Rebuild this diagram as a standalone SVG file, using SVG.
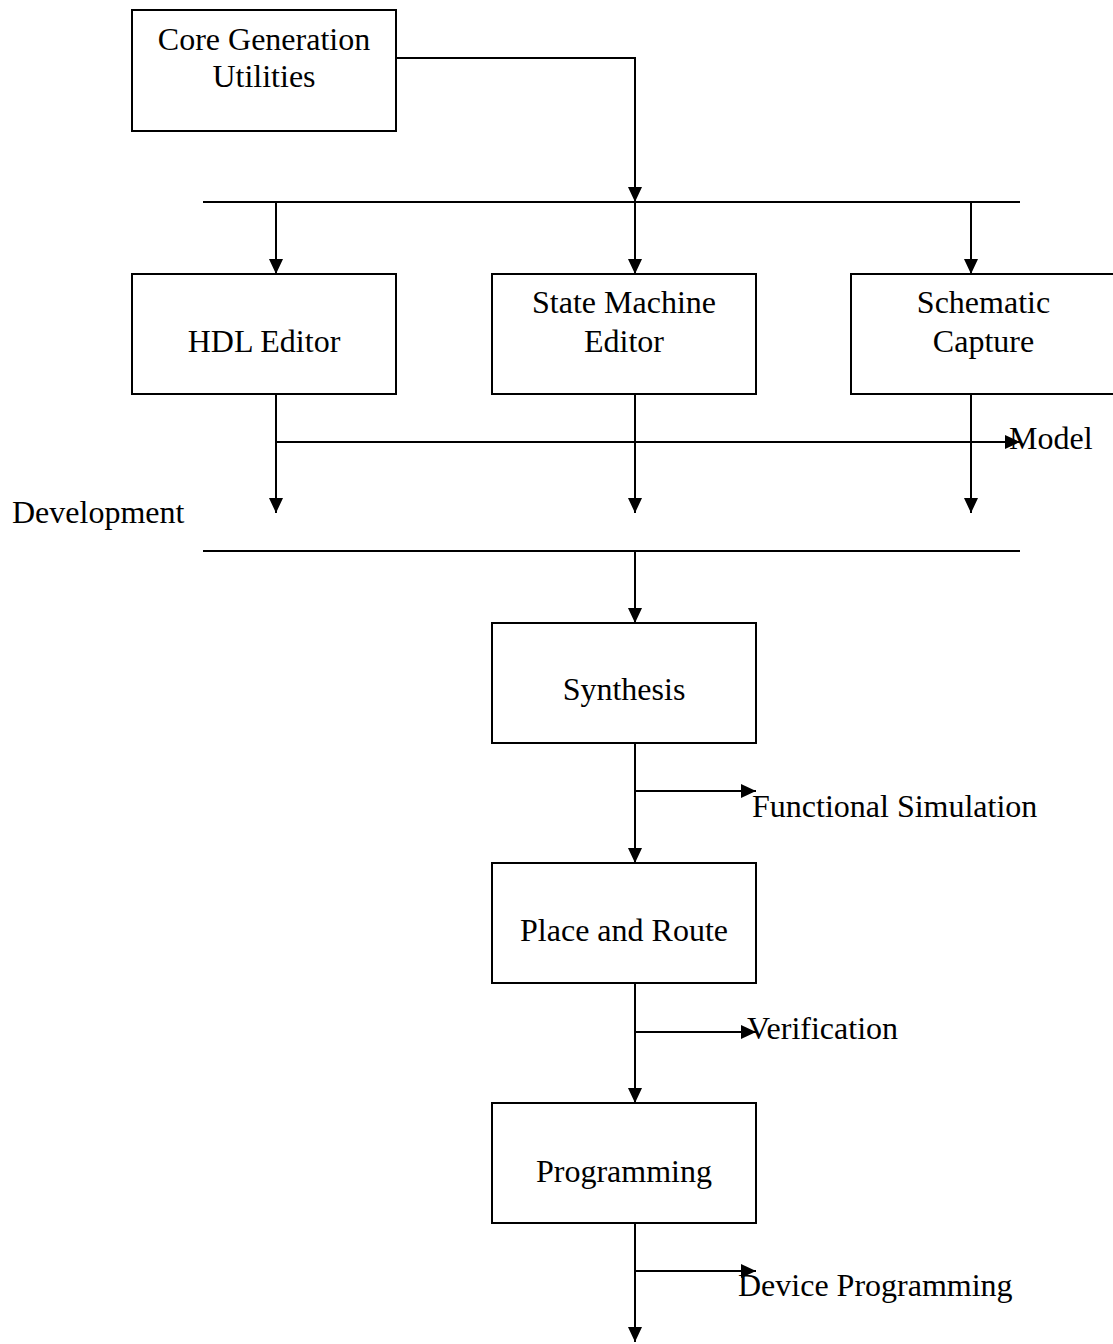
<svg xmlns="http://www.w3.org/2000/svg" width="1113" height="1344" viewBox="0 0 1113 1344">
<style>
.box{fill:#fff;stroke:#000;stroke-width:2}
.ln{fill:none;stroke:#000;stroke-width:2}
text{font-family:"Liberation Serif","Times New Roman",serif;font-size:32px;fill:#000}
.c{text-anchor:middle}
</style>
<defs>
<marker id="ah" viewBox="0 0 15 14" refX="15" refY="7" markerWidth="15" markerHeight="14" markerUnits="userSpaceOnUse" orient="auto">
<path d="M0,0 L15,7 L0,14 z" fill="#000"/>
</marker>
</defs>
<rect width="1113" height="1344" fill="#fff"/>
<g id="connectors">
<path class="ln" d="M396,58 H635 V202" marker-end="url(#ah)"/>
<line class="ln" x1="203" y1="202" x2="1020" y2="202"/>
<line class="ln" x1="276" y1="202" x2="276" y2="274" marker-end="url(#ah)"/>
<line class="ln" x1="635" y1="202" x2="635" y2="274" marker-end="url(#ah)"/>
<line class="ln" x1="971" y1="202" x2="971" y2="274" marker-end="url(#ah)"/>
<line class="ln" x1="276" y1="394" x2="276" y2="513" marker-end="url(#ah)"/>
<line class="ln" x1="635" y1="394" x2="635" y2="513" marker-end="url(#ah)"/>
<line class="ln" x1="971" y1="394" x2="971" y2="513" marker-end="url(#ah)"/>
<line class="ln" x1="276" y1="442" x2="1020" y2="442" marker-end="url(#ah)"/>
<line class="ln" x1="203" y1="551" x2="1020" y2="551"/>
<line class="ln" x1="635" y1="551" x2="635" y2="623" marker-end="url(#ah)"/>
<line class="ln" x1="635" y1="743" x2="635" y2="863" marker-end="url(#ah)"/>
<line class="ln" x1="635" y1="791" x2="756" y2="791" marker-end="url(#ah)"/>
<line class="ln" x1="635" y1="983" x2="635" y2="1103" marker-end="url(#ah)"/>
<line class="ln" x1="635" y1="1032" x2="756" y2="1032" marker-end="url(#ah)"/>
<line class="ln" x1="635" y1="1223" x2="635" y2="1342" marker-end="url(#ah)"/>
<line class="ln" x1="635" y1="1271" x2="756" y2="1271" marker-end="url(#ah)"/>
</g>
<g id="core">
<rect class="box" x="132" y="10" width="264" height="121"/>
<text class="c" x="264" y="50">Core Generation</text>
<text class="c" x="264" y="87">Utilities</text>
</g>
<g id="hdl">
<rect class="box" x="132" y="274" width="264" height="120"/>
<text class="c" x="264" y="352">HDL Editor</text>
</g>
<g id="sme">
<rect class="box" x="492" y="274" width="264" height="120"/>
<text class="c" x="624" y="313">State Machine</text>
<text class="c" x="624" y="352">Editor</text>
</g>
<g id="sch">
<rect class="box" x="851" y="274" width="265" height="120"/>
<text class="c" x="983.5" y="313">Schematic</text>
<text class="c" x="983.5" y="352">Capture</text>
</g>
<g id="model-label"><text x="1009" y="449">Model</text></g>
<g id="development-label"><text x="12" y="523">Development</text></g>
<g id="synthesis">
<rect class="box" x="492" y="623" width="264" height="120"/>
<text class="c" x="624" y="700">Synthesis</text>
</g>
<g id="funcsim-label"><text x="752" y="817">Functional Simulation</text></g>
<g id="par">
<rect class="box" x="492" y="863" width="264" height="120"/>
<text class="c" x="624" y="941">Place and Route</text>
</g>
<g id="verification-label"><text x="747" y="1039">Verification</text></g>
<g id="programming">
<rect class="box" x="492" y="1103" width="264" height="120"/>
<text class="c" x="624" y="1182">Programming</text>
</g>
<g id="devprog-label"><text x="738" y="1296">Device Programming</text></g>
</svg>
